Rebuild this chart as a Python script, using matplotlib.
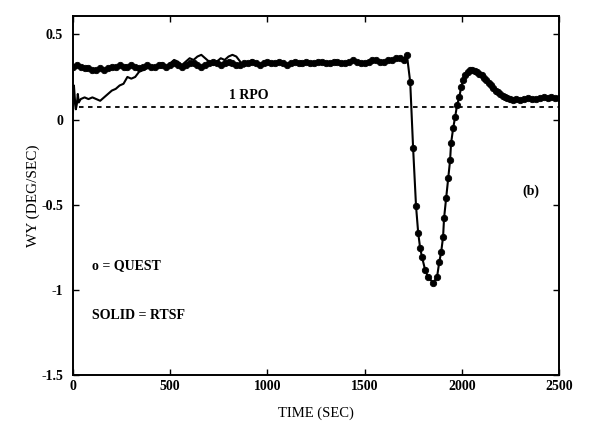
import numpy as np
import matplotlib.pyplot as plt

plt.rcParams['font.family'] = 'Liberation Serif'
plt.rcParams['font.weight'] = 'bold'

# QUEST estimates, WY (deg/sec)
quest_flat_t = np.arange(0, 1720, 20)
quest_flat_wy = [
    0.31, 0.32, 0.31, 0.30, 0.30, 0.29, 0.29, 0.30, 0.29, 0.30,
    0.31, 0.31, 0.32, 0.31, 0.31, 0.32, 0.31, 0.30, 0.31, 0.32,
    0.31, 0.31, 0.32, 0.32, 0.31, 0.32, 0.33, 0.32, 0.31, 0.32,
    0.33, 0.33, 0.32, 0.31, 0.32, 0.33, 0.34, 0.33, 0.32, 0.33,
    0.34, 0.33, 0.32, 0.32, 0.33, 0.33, 0.34, 0.33, 0.32, 0.33,
    0.34, 0.33, 0.33, 0.34, 0.33, 0.32, 0.33, 0.34, 0.33, 0.33,
    0.34, 0.33, 0.33, 0.34, 0.34, 0.33, 0.33, 0.34, 0.34, 0.33,
    0.33, 0.34, 0.35, 0.34, 0.33, 0.33, 0.34, 0.35, 0.35, 0.34,
    0.34, 0.35, 0.35, 0.36, 0.36, 0.35,
]
quest_man_t = [
    1717, 1734, 1749, 1764, 1775, 1785, 1795, 1811, 1826, 1852,
    1872, 1883, 1893, 1903, 1908, 1919, 1929, 1939, 1944, 1955, 1965,
    1975, 1986, 1996, 2006, 2017, 2029, 2042, 2054, 2066, 2078, 2090,
    2102, 2114, 2126, 2138, 2150, 2162, 2174, 2186, 2198, 2210, 2222,
    2234, 2246,
]
quest_man_wy = [
    0.38, 0.22, -0.17, -0.51, -0.665, -0.755, -0.81, -0.885, -0.925, -0.96,
    -0.925, -0.84, -0.78, -0.69, -0.58, -0.46, -0.345, -0.24, -0.14, -0.05, 0.015,
    0.085, 0.13, 0.19, 0.23, 0.26, 0.28, 0.29, 0.29, 0.285, 0.28, 0.27,
    0.26, 0.245, 0.23, 0.215, 0.20, 0.185, 0.17, 0.16, 0.15, 0.14, 0.13,
    0.125, 0.12,
]
quest_end_t = np.arange(2260, 2520, 20)
quest_end_wy = [0.115, 0.12, 0.115, 0.12, 0.125, 0.12, 0.12, 0.125, 0.13, 0.125, 0.13, 0.125, 0.125]

# RTSF filter before convergence (after ~1000 s it follows QUEST)
rtsf_early_t = [
    0, 5, 10, 15, 20, 25, 30, 40, 60, 80, 100, 120, 140, 160, 180, 200,
    220, 240, 260, 280, 300, 320, 340, 360, 380, 400, 420, 440, 460, 480,
    500, 520, 540, 560, 580, 600, 620, 640, 660, 680, 700, 720, 740, 760,
    780, 800, 820, 840, 860, 880, 900, 920, 940, 960, 980,
]
rtsf_early_wy = [
    0.04, 0.20, 0.12, 0.06, 0.09, 0.15, 0.10, 0.12, 0.13, 0.12, 0.13, 0.12,
    0.11, 0.13, 0.15, 0.17, 0.18, 0.20, 0.21, 0.25, 0.24, 0.25, 0.28, 0.29,
    0.30, 0.31, 0.30, 0.32, 0.33, 0.31, 0.33, 0.35, 0.34, 0.32, 0.34, 0.36,
    0.35, 0.37, 0.38, 0.36, 0.34, 0.32, 0.34, 0.36, 0.35, 0.37, 0.38, 0.37,
    0.34, 0.31, 0.33, 0.35, 0.33, 0.31, 0.33,
]

rpo_t = [30, 2500]
rpo_wy = [0.075, 0.075]

quest_t = np.concatenate([quest_flat_t, quest_man_t, quest_end_t])
quest_wy = np.concatenate([quest_flat_wy, quest_man_wy, quest_end_wy])
late = quest_t >= 1000
rtsf_t = np.concatenate([rtsf_early_t, quest_t[late]])
rtsf_wy = np.concatenate([rtsf_early_wy, quest_wy[late]])

fig = plt.figure(figsize=(5.93, 4.24), dpi=100)
ax = fig.add_axes([0.123, 0.116, 0.82, 0.847])

ax.plot(quest_t, quest_wy, 'o', color='black', markersize=4.6, markeredgewidth=0.6)
ax.plot(rtsf_t, rtsf_wy, '-', color='black', linewidth=1.5)
ax.plot(rpo_t, rpo_wy, color='black', linewidth=1.3, dashes=(2.5, 2.5))

ax.text(800, 0.12, '1 RPO', fontsize=10)
ax.text(2310, -0.44, '(b)', fontsize=10)
ax.text(100, -0.88, 'o = QUEST', fontsize=10)
ax.text(100, -1.17, 'SOLID = RTSF', fontsize=10)

ax.set_xlim(0, 2500)
ax.set_ylim(-1.5, 0.61)
ax.set_xticks([0, 500, 1000, 1500, 2000, 2500])
ax.set_yticks([-1.5, -1, -0.5, 0, 0.5])
ax.set_yticklabels(['-1.5', '-1', '-0.5', '0', '0.5'])
ax.tick_params(direction='in', top=True, right=True, length=4, width=1, labelsize=10)
ax.tick_params(axis='y', pad=7)
for s in ax.spines.values():
    s.set_linewidth(1.4)

ax.set_xlabel('TIME (SEC)', fontsize=10.5, labelpad=10)
ax.set_ylabel('WY (DEG/SEC)', fontsize=11, labelpad=1)

fig.savefig('out.png', dpi=100)
